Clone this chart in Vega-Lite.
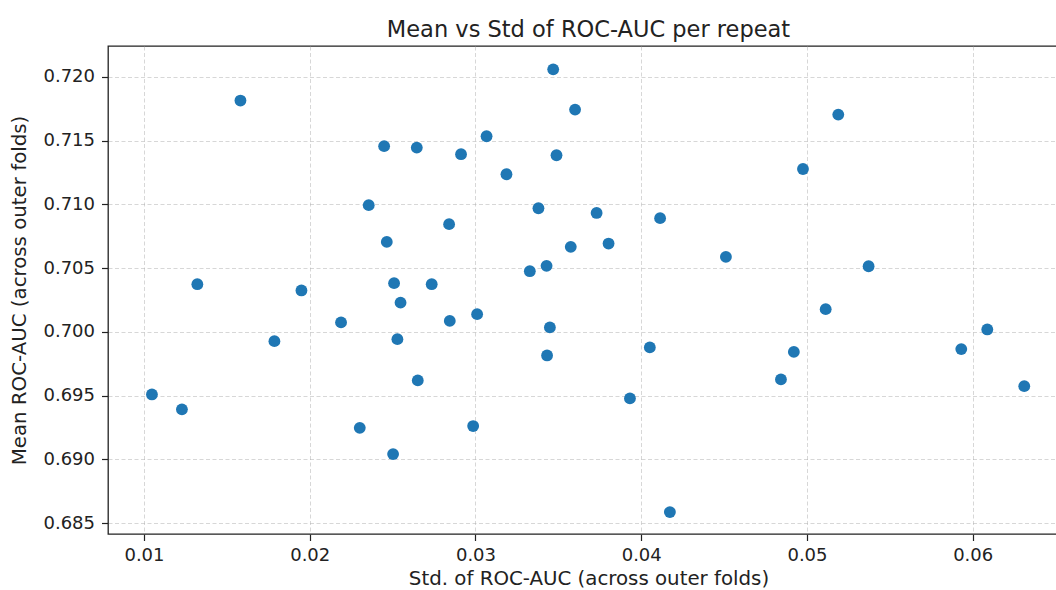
{
  "$schema": "https://vega.github.io/schema/vega-lite/v6.json",
  "width": 961,
  "height": 488,
  "autosize": {"type": "none"},
  "padding": {"left": 108, "top": 46, "right": 0, "bottom": 56},
  "background": "white",
  "title": {
    "text": "Mean vs Std of ROC-AUC per repeat",
    "font": "DejaVu Sans",
    "fontSize": 22.5,
    "fontWeight": "normal",
    "color": "#222",
    "anchor": "middle",
    "offset": 5
  },
  "config": {
    "view": {"stroke": "#222", "strokeWidth": 1.3},
    "axis": {
      "labelFont": "DejaVu Sans",
      "labelFontSize": 18,
      "labelColor": "#222",
      "titleFont": "DejaVu Sans",
      "titleFontSize": 19.8,
      "titleFontWeight": "normal",
      "titleColor": "#222",
      "tickColor": "#222",
      "tickSize": 6.5,
      "tickWidth": 1.2,
      "domain": false,
      "grid": true,
      "gridColor": "#b0b0b0",
      "gridOpacity": 0.5,
      "gridDash": [4, 2.5],
      "gridWidth": 1
    }
  },
  "data": {
    "values": [
      {"std": 0.01048, "mean": 0.69509},
      {"std": 0.01229, "mean": 0.69392},
      {"std": 0.01322, "mean": 0.70374},
      {"std": 0.01582, "mean": 0.71815},
      {"std": 0.01787, "mean": 0.69927},
      {"std": 0.01950, "mean": 0.70325},
      {"std": 0.02189, "mean": 0.70074},
      {"std": 0.02302, "mean": 0.69247},
      {"std": 0.02356, "mean": 0.70994},
      {"std": 0.02449, "mean": 0.71457},
      {"std": 0.02465, "mean": 0.70706},
      {"std": 0.02503, "mean": 0.69041},
      {"std": 0.02509, "mean": 0.70382},
      {"std": 0.02529, "mean": 0.69943},
      {"std": 0.02548, "mean": 0.70229},
      {"std": 0.02646, "mean": 0.71446},
      {"std": 0.02652, "mean": 0.69619},
      {"std": 0.02736, "mean": 0.70374},
      {"std": 0.02841, "mean": 0.70845},
      {"std": 0.02845, "mean": 0.70086},
      {"std": 0.02913, "mean": 0.71394},
      {"std": 0.02986, "mean": 0.69261},
      {"std": 0.03010, "mean": 0.70139},
      {"std": 0.03067, "mean": 0.71535},
      {"std": 0.03187, "mean": 0.71237},
      {"std": 0.03328, "mean": 0.70476},
      {"std": 0.03380, "mean": 0.70970},
      {"std": 0.03429, "mean": 0.70518},
      {"std": 0.03432, "mean": 0.69815},
      {"std": 0.03449, "mean": 0.70035},
      {"std": 0.03469, "mean": 0.72060},
      {"std": 0.03489, "mean": 0.71386},
      {"std": 0.03575, "mean": 0.70667},
      {"std": 0.03601, "mean": 0.71744},
      {"std": 0.03731, "mean": 0.70933},
      {"std": 0.03803, "mean": 0.70693},
      {"std": 0.03932, "mean": 0.69478},
      {"std": 0.04052, "mean": 0.69878},
      {"std": 0.04114, "mean": 0.70892},
      {"std": 0.04173, "mean": 0.68586},
      {"std": 0.04511, "mean": 0.70588},
      {"std": 0.04843, "mean": 0.69627},
      {"std": 0.04921, "mean": 0.69843},
      {"std": 0.04976, "mean": 0.71278},
      {"std": 0.05113, "mean": 0.70178},
      {"std": 0.05189, "mean": 0.71705},
      {"std": 0.05372, "mean": 0.70515},
      {"std": 0.05931, "mean": 0.69865},
      {"std": 0.06088, "mean": 0.70019},
      {"std": 0.06311, "mean": 0.69574}
    ]
  },
  "mark": {"type": "circle", "size": 140, "color": "#1f77b4", "opacity": 1},
  "encoding": {
    "x": {
      "field": "std",
      "type": "quantitative",
      "scale": {"domain": [0.00783, 0.06581], "nice": false, "zero": false},
      "axis": {
        "values": [0.01, 0.02, 0.03, 0.04, 0.05, 0.06],
        "format": ".2f",
        "title": "Std. of ROC-AUC (across outer folds)",
        "labelPadding": 6,
        "titlePadding": 4
      }
    },
    "y": {
      "field": "mean",
      "type": "quantitative",
      "scale": {"domain": [0.68414, 0.72243], "nice": false, "zero": false},
      "axis": {
        "values": [0.685, 0.69, 0.695, 0.7, 0.705, 0.71, 0.715, 0.72],
        "format": ".3f",
        "title": "Mean ROC-AUC (across outer folds)",
        "labelPadding": 7,
        "titlePadding": 13
      }
    }
  }
}
